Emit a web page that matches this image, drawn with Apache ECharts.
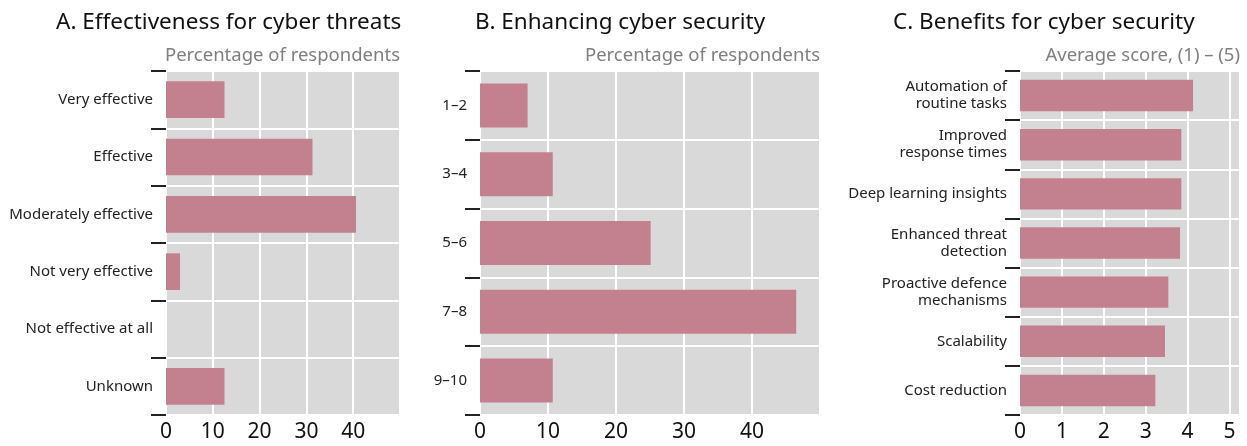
<!DOCTYPE html>
<html>
<head>
<meta charset="utf-8">
<script src="https://cdn.jsdelivr.net/npm/echarts@6/dist/echarts.min.js"></script>
<style>
html,body{margin:0;padding:0;background:#fff;}
#chart{width:1247px;height:446px;}
</style>
</head>
<body>
<div id="chart"></div>
<script>
// Panel A
const catsA = ['Very effective', 'Effective', 'Moderately effective', 'Not very effective', 'Not effective at all', 'Unknown'];
const valsA = [12.5, 31.3, 40.6, 3.0, 0, 12.5];
// Panel B
const catsB = ['1–2', '3–4', '5–6', '7–8', '9–10'];
const valsB = [7.0, 10.7, 25.1, 46.5, 10.7];
// Panel C
const catsC = ['Automation of\nroutine tasks', 'Improved\nresponse times', 'Deep learning insights', 'Enhanced threat\ndetection', 'Proactive defence\nmechanisms', 'Scalability', 'Cost reduction'];
const valsC = [4.13, 3.85, 3.85, 3.82, 3.54, 3.46, 3.23];
const ticksPct = [0, 10, 20, 30, 40];
const ticksScore = [0, 1, 2, 3, 4, 5];

const titles = ['A. Effectiveness for cyber threats', 'B. Enhancing cyber security', 'C. Benefits for cyber security'];
const subtitles = ['Percentage of respondents', 'Percentage of respondents', 'Average score, (1) – (5)'];

const FONT = 'Noto Sans';
const BAR = '#c3808f';
const BG = '#d9d9d9';

const grids = [
  {left: 166, right: 847, top: 71, bottom: 31},
  {left: 480, right: 427, top: 71, bottom: 31},
  {left: 1020, right: 7, top: 71, bottom: 31}
];
const xMax = [50, 50, 5.25];
const xInt = [10, 10, 1];
const tickSets = [ticksPct, ticksPct, ticksScore];
const catSets = [catsA, catsB, catsC];
const valSets = [valsA, valsB, valsC];
const titleLeft = [56, 475, 893];
const plotRight = [400, 820, 1240];

const option = {
  animation: false,
  textStyle: {fontFamily: FONT},
  title: [],
  grid: [],
  xAxis: [],
  yAxis: [],
  series: []
};

for (let i = 0; i < 3; i++) {
  option.title.push({
    text: titles[i], left: titleLeft[i], top: 11, padding: 0,
    textStyle: {fontFamily: FONT, fontSize: 22.5, fontWeight: 'normal', color: '#111'}
  });
  option.title.push({
    text: subtitles[i], right: 1247 - plotRight[i], top: 46, padding: 0,
    textStyle: {fontFamily: FONT, fontSize: 18.5, fontWeight: 'normal', color: '#7f7f7f'}
  });
  option.grid.push(Object.assign({show: true, backgroundColor: BG, borderWidth: 0}, grids[i]));
  const ts = tickSets[i];
  option.xAxis.push({
    type: 'value', gridIndex: i, min: 0, max: xMax[i], interval: xInt[i],
    axisLine: {show: false}, axisTick: {show: false},
    splitLine: {show: true, lineStyle: {color: '#ffffff', width: 2}},
    axisLabel: {
      fontFamily: FONT, fontSize: 21, color: '#111', margin: 7,
      showMaxLabel: true,
      formatter: function (v) { return ts.indexOf(v) >= 0 ? String(v) : ''; }
    }
  });
  option.yAxis.push({
    type: 'category', gridIndex: i, data: catSets[i], inverse: true,
    axisLine: {show: false},
    axisTick: {show: true, length: 15, lineStyle: {color: '#222', width: 2}},
    splitLine: {show: true, lineStyle: {color: '#ffffff', width: 2}},
    axisLabel: {fontFamily: FONT, fontSize: 15, color: '#222', margin: 13, lineHeight: 17, align: 'right'}
  });
  option.series.push({
    type: 'bar', xAxisIndex: i, yAxisIndex: i, data: valSets[i],
    barCategoryGap: '36%', itemStyle: {color: BAR}, silent: true
  });
}

const chart = echarts.init(document.getElementById('chart'), null, {renderer: 'canvas'});
chart.setOption(option);
</script>
</body>
</html>
